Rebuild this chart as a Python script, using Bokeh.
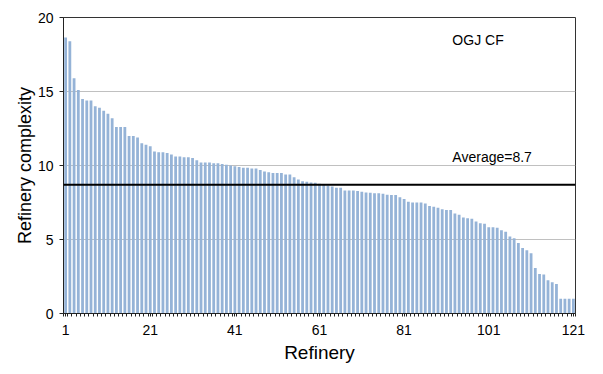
from bokeh.plotting import figure
from bokeh.models import Range1d, FixedTicker, Span, Label, ColumnDataSource
from bokeh.embed import file_html
from bokeh.resources import INLINE

# ---- data ----
complexity = [
    18.65, 18.4, 15.9, 15.1, 14.5, 14.4, 14.4, 14.0, 13.9, 13.7,
    13.5, 13.2, 12.6, 12.6, 12.6, 12.0, 12.0, 11.9, 11.5, 11.4,
    11.3, 10.95, 10.9, 10.9, 10.85, 10.75, 10.6, 10.6, 10.55, 10.55,
    10.5, 10.35, 10.2, 10.2, 10.2, 10.15, 10.15, 10.1, 10.05, 10.0,
    9.95, 9.9, 9.85, 9.85, 9.8, 9.8, 9.7, 9.6, 9.55, 9.5,
    9.5, 9.5, 9.4, 9.4, 9.2, 9.05, 8.94, 8.9, 8.85, 8.83,
    8.77, 8.72, 8.65, 8.58, 8.5, 8.5, 8.31, 8.31, 8.31, 8.27,
    8.22, 8.18, 8.16, 8.13, 8.13, 8.09, 8.02, 8.0, 8.0, 7.86,
    7.73, 7.55, 7.5, 7.5, 7.5, 7.44, 7.26, 7.21, 7.15, 7.05,
    6.99, 6.99, 6.76, 6.67, 6.49, 6.43, 6.4, 6.22, 6.09, 6.07,
    5.82, 5.82, 5.8, 5.62, 5.53, 5.21, 5.08, 4.76, 4.42, 4.27,
    4.07, 3.08, 2.67, 2.63, 2.25, 2.11, 2.0, 1.0, 1.0, 1.0,
    1.0,
]
refinery = list(range(1, len(complexity) + 1))
x_tick_labels = [1, 21, 41, 61, 81, 101, 121]
y_ticks = [0, 5, 10, 15, 20]
average = 8.7
source_label = "OGJ CF"
average_label = "Average=8.7"

FONT = "Liberation Sans"

p = figure(
    frame_width=512, frame_height=296,
    min_border_left=63, min_border_right=28, min_border_top=17, min_border_bottom=61,
    x_range=Range1d(0.5, len(refinery) + 0.5), y_range=Range1d(0, 20),
    output_backend="svg", toolbar_location=None,
    background_fill_color="white", border_fill_color="white",
)

src = ColumnDataSource(dict(x=refinery, top=complexity))
p.vbar(x="x", top="top", bottom=0, width=0.66, source=src,
       fill_color="#95b3d7", line_color=None)

p.add_layout(Span(location=average, dimension="width", line_color="black", line_width=2))

p.add_layout(Label(x=92.4, y=18.45, text=source_label, text_font=FONT,
                   text_font_size="14px", text_baseline="middle", text_color="black"))
p.add_layout(Label(x=92.4, y=10.6, text=average_label, text_font=FONT,
                   text_font_size="14px", text_baseline="middle", text_color="black"))

# grids
p.xgrid.visible = False
p.ygrid.ticker = FixedTicker(ticks=y_ticks)
p.ygrid.grid_line_color = "#c0c0c0"
p.ygrid.grid_line_width = 1

p.outline_line_color = "#333333"
p.outline_line_width = 1

# x axis
xa = p.xaxis[0]
xa.ticker = FixedTicker(ticks=x_tick_labels,
                        minor_ticks=[r + 0.5 for r in [0] + refinery])
xa.major_tick_in = 0
xa.major_tick_out = 3
xa.minor_tick_in = 0
xa.minor_tick_out = 3
xa.major_tick_line_color = "#222222"
xa.minor_tick_line_color = "#222222"
xa.axis_line_color = "#222222"
xa.major_label_standoff = 8
xa.major_label_text_font = FONT
xa.major_label_text_font_size = "14px"
xa.major_label_text_color = "black"
xa.axis_label = "Refinery"
xa.axis_label_text_font = FONT
xa.axis_label_text_font_size = "19px"
xa.axis_label_text_font_style = "normal"
xa.axis_label_text_color = "black"
xa.axis_label_standoff = 4

# y axis
ya = p.yaxis[0]
ya.ticker = FixedTicker(ticks=y_ticks)
ya.major_tick_in = 0
ya.major_tick_out = 4
ya.minor_tick_in = 0
ya.minor_tick_out = 0
ya.major_tick_line_color = "#222222"
ya.axis_line_color = "#222222"
ya.major_label_standoff = 6
ya.major_label_text_font = FONT
ya.major_label_text_font_size = "14px"
ya.major_label_text_color = "black"
ya.axis_label = "Refinery complexity"
ya.axis_label_text_font = FONT
ya.axis_label_text_font_size = "18px"
ya.axis_label_text_font_style = "normal"
ya.axis_label_text_color = "black"
ya.axis_label_standoff = 0

open("out.html", "w").write(file_html(p, INLINE))
